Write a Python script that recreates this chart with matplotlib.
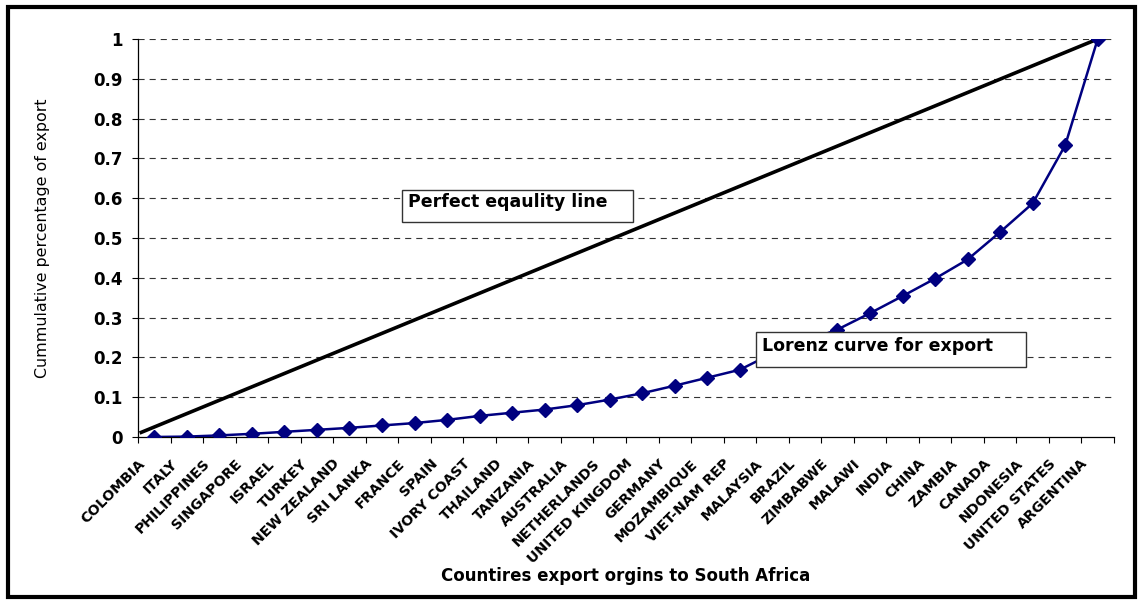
import matplotlib
matplotlib.use("Agg")
import matplotlib.pyplot as plt
from matplotlib.patches import Rectangle
from matplotlib.transforms import ScaledTranslation

countries = ["COLOMBIA", "ITALY", "PHILIPPINES", "SINGAPORE", "ISRAEL", "TURKEY",
             "NEW ZEALAND", "SRI LANKA", "FRANCE", "SPAIN", "IVORY COAST", "THAILAND",
             "TANZANIA", "AUSTRALIA", "NETHERLANDS", "UNITED KINGDOM", "GERMANY",
             "MOZAMBIQUE", "VIET-NAM REP", "MALAYSIA", "BRAZIL", "ZIMBABWE", "MALAWI",
             "INDIA", "CHINA", "ZAMBIA", "CANADA", "NDONESIA", "UNITED STATES", "ARGENTINA"]

# cumulative share of exports (Lorenz curve)
lorenz = [0.000, 0.001, 0.004, 0.008, 0.013, 0.018, 0.023, 0.029, 0.035, 0.043,
          0.053, 0.061, 0.069, 0.080, 0.094, 0.110, 0.129, 0.149, 0.169, 0.210,
          0.240, 0.270, 0.311, 0.354, 0.398, 0.446, 0.515, 0.587, 0.733, 1.000]

# perfect equality line: start and end values
equality = [0.01, 1.0]

yticks = [0, 0.1, 0.2, 0.3, 0.4, 0.5, 0.6, 0.7, 0.8, 0.9, 1]
ytick_labels = ["0", "0.1", "0.2", "0.3", "0.4", "0.5", "0.6", "0.7", "0.8", "0.9", "1"]

plt.rcParams["font.family"] = ["DejaVu Sans"]

W, H = 1138, 600
fig = plt.figure(figsize=(W / 100, H / 100), dpi=100)
ax = fig.add_axes([138 / W, 1 - 437 / H, 976 / W, 398 / H])

n = len(countries)
xs = list(range(n))

ax.plot([-0.45, n - 1], equality, color="black", linewidth=2.6,
        solid_capstyle="butt", zorder=3)
ax.plot(xs, lorenz, color="#000080", linewidth=1.8, marker="D",
        markersize=7, markeredgecolor="#000080", markerfacecolor="#000080",
        zorder=4)

ax.set_xlim(-0.5, n - 0.5)
ax.set_ylim(0, 1)

# dashed horizontal grid
for y in yticks[1:]:
    ax.axhline(y, color="#333333", linewidth=0.8, dashes=(5.5, 4.5), zorder=1)

for side in ["top", "right"]:
    ax.spines[side].set_visible(False)
for side in ["left", "bottom"]:
    ax.spines[side].set_linewidth(0.9)
    ax.spines[side].set_zorder(2)

ax.set_yticks(yticks)
ax.set_yticklabels(ytick_labels, fontsize=12, fontweight="bold")
ax.tick_params(axis="y", length=4.5, width=0.8, pad=6.5)

# category labels at centres, tick marks at the boundaries
ax.set_xticks(xs)
ax.set_xticklabels(countries, rotation=45, ha="right", va="top",
                   fontsize=10.2, fontweight="bold")
ax.set_xticks([i - 0.5 for i in range(n + 1)], minor=True)
ax.tick_params(axis="x", which="major", length=0, pad=14)
ax.tick_params(axis="x", which="minor", length=4, width=0.8)
shift = ScaledTranslation(-7 / 100, 0, fig.dpi_scale_trans)
for lbl in ax.get_xticklabels():
    lbl.set_transform(lbl.get_transform() + shift)

ax.set_xlabel("Countires export orgins to South Africa", fontsize=12,
              fontweight="bold", va="center")
ax.xaxis.set_label_coords(0.5, (437 - 576) / 398)
ax.set_ylabel("Cummulative percentage of export", fontsize=11.4, va="center")
ax.yaxis.set_label_coords((43 - 138) / 976, 0.5)


def fx(x):
    return x / W


def fy(y):
    return 1 - y / H


# annotation boxes
for (l, t, r, b), txt, base in [((402, 190, 633, 222), "Perfect eqaulity line", 207),
                                ((756, 332, 1026, 367), "Lorenz curve for export", 351)]:
    fig.add_artist(Rectangle((fx(l), fy(b)), fx(r - l), (b - t) / H,
                             transform=fig.transFigure, facecolor="white",
                             edgecolor="#333333", linewidth=1.0, zorder=5))
    fig.text(fx(l + 6), fy(base), txt, fontsize=12.5, fontweight="bold",
             ha="left", va="baseline", zorder=6)

# outer frame
fig.add_artist(Rectangle((fx(8), fy(597)), fx(1127), 590 / H,
                         transform=fig.transFigure, fill=False,
                         edgecolor="black", linewidth=3, zorder=7))

fig.savefig("out.png", dpi=100)
